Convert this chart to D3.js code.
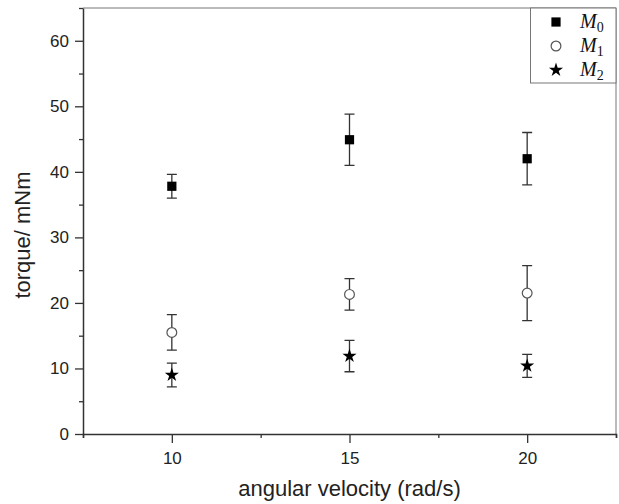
<!DOCTYPE html>
<html>
<head>
<meta charset="utf-8">
<script src="https://cdn.jsdelivr.net/npm/d3@7"></script>
<style>
  body { margin: 0; background: #fff; }
  svg { display: block; font-family: Arial, "Liberation Sans", sans-serif; }
</style>
</head>
<body>
<svg id="chart" width="619" height="504"></svg>
<script>
// angular velocity categories (rad/s)
const velocities = [10, 15, 20];
// mean torque per series (mNm) and error half-widths
const m0 = [37.8, 44.9, 42.0];
const m0Err = [1.8, 3.9, 4.0];
const m1 = [15.5, 21.3, 21.5];
const m1Err = [2.7, 2.4, 4.2];
const m2 = [9.0, 11.9, 10.4];
const m2Err = [1.8, 2.4, 1.75];
const yTicks = [0, 10, 20, 30, 40, 50, 60];
const xTicks = [10, 15, 20];

const series = [
    {name: 'M', sub: '0', values: m0, errors: m0Err, symbol: 'square'},
    {name: 'M', sub: '1', values: m1, errors: m1Err, symbol: 'circle'},
    {name: 'M', sub: '2', values: m2, errors: m2Err, symbol: 'star'}
];

const margin = {left: 83, right: 3, top: 8, bottom: 70};
const width = 619, height = 504;
const svg = d3.select('#chart');

const x = d3.scaleLinear().domain([7.5, 22.5]).range([margin.left, width - margin.right]);
const y = d3.scaleLinear().domain([0, 65]).range([height - margin.bottom, margin.top]);

const axisColor = '#333';
const textColor = '#222';

// frame: thin grey top and right edges
svg.append('path')
    .attr('d', `M${x(7.5)},${y(65)}H${x(22.5)}V${y(0)}`)
    .attr('fill', 'none')
    .attr('stroke', '#777')
    .attr('stroke-width', 1);

// x axis, minor ticks then major ticks, all pointing out
const xAxis = svg.append('g').attr('transform', `translate(0,${y(0)})`)
    .call(d3.axisBottom(x).tickValues([7.5, 12.5, 17.5, 22.5]).tickSize(4).tickFormat(''));
xAxis.select('.domain').attr('stroke', axisColor).attr('stroke-width', 1.5);
xAxis.selectAll('.tick line').attr('stroke', axisColor).attr('stroke-width', 1.3);
const xMajor = svg.append('g').attr('transform', `translate(0,${y(0)})`)
    .call(d3.axisBottom(x).tickValues(xTicks).tickSize(9).tickPadding(9).tickFormat(d3.format('d')));
xMajor.select('.domain').remove();
xMajor.selectAll('.tick line').attr('stroke', axisColor).attr('stroke-width', 1.3);
xMajor.selectAll('text').attr('font-size', 17).attr('fill', textColor).attr('font-family', 'Arial, "Liberation Sans", sans-serif');

// y axis
const yMinor = svg.append('g').attr('transform', `translate(${x(7.5)},0)`)
    .call(d3.axisLeft(y).tickValues(d3.range(5, 70, 10)).tickSize(4).tickFormat(''));
yMinor.select('.domain').remove();
yMinor.selectAll('.tick line').attr('stroke', axisColor).attr('stroke-width', 1.3);
const yAxis = svg.append('g').attr('transform', `translate(${x(7.5)},0)`)
    .call(d3.axisLeft(y).tickValues(yTicks).tickSize(8).tickPadding(6).tickSizeOuter(0));
yAxis.select('.domain').attr('stroke', axisColor).attr('stroke-width', 1.5);
yAxis.selectAll('.tick line').attr('stroke', axisColor).attr('stroke-width', 1.3);
yAxis.selectAll('text').attr('font-size', 17).attr('fill', textColor).attr('font-family', 'Arial, "Liberation Sans", sans-serif');

// axis titles
svg.append('text')
    .attr('x', (x(7.5) + x(22.5)) / 2)
    .attr('y', 496)
    .attr('text-anchor', 'middle')
    .attr('font-size', 22)
    .attr('fill', textColor)
    .text('angular velocity (rad/s)');
svg.append('text')
    .attr('transform', 'translate(30,235) rotate(-90)')
    .attr('text-anchor', 'middle')
    .attr('font-size', 22)
    .attr('fill', textColor)
    .text('torque/ mNm');

// symbols
const symbolPath = {
    square: d3.symbol(d3.symbolSquare, 85)(),
    circle: d3.symbol(d3.symbolCircle, 75)(),
    star: d3.symbol(d3.symbolStar, 62)()
};
function drawSymbol(g, symbol) {
    g.append('path')
        .attr('d', symbolPath[symbol])
        .attr('fill', symbol === 'circle' ? '#fff' : '#000')
        .attr('stroke', symbol === 'circle' ? '#555' : 'none')
        .attr('stroke-width', 1.2);
}

// error bars and points
const capHalf = 5;
for (let s of series) {
    const group = svg.append('g');
    s.values.forEach((v, i) => {
        const cx = x(velocities[i]);
        const top = y(v + s.errors[i]), bottom = y(v - s.errors[i]);
        group.append('path')
            .attr('d', `M${cx},${top}V${bottom}M${cx - capHalf},${top}H${cx + capHalf}M${cx - capHalf},${bottom}H${cx + capHalf}`)
            .attr('fill', 'none')
            .attr('stroke', '#333')
            .attr('stroke-width', 1.3);
        const mark = group.append('g').attr('transform', `translate(${cx},${y(v)})`);
        drawSymbol(mark, s.symbol);
    });
}

// legend box in top right corner
const legend = svg.append('g');
legend.append('rect')
    .attr('x', 530.5).attr('y', y(65))
    .attr('width', x(22.5) - 530.5).attr('height', 83 - y(65))
    .attr('fill', '#fff')
    .attr('stroke', '#777')
    .attr('stroke-width', 1);
series.forEach((s, i) => {
    const rowY = 22 + i * 24;
    const mark = legend.append('g').attr('transform', `translate(556,${rowY})`);
    drawSymbol(mark, s.symbol);
    const label = legend.append('text')
        .attr('x', 580).attr('y', rowY + 6)
        .attr('font-family', '"Liberation Serif", "DejaVu Serif", serif')
        .attr('font-style', 'italic')
        .attr('font-size', 20)
        .attr('fill', '#111');
    label.append('tspan').text(s.name);
    label.append('tspan').attr('dy', 4).attr('font-size', 14).attr('font-style', 'normal').text(s.sub);
});
</script>
</body>
</html>
